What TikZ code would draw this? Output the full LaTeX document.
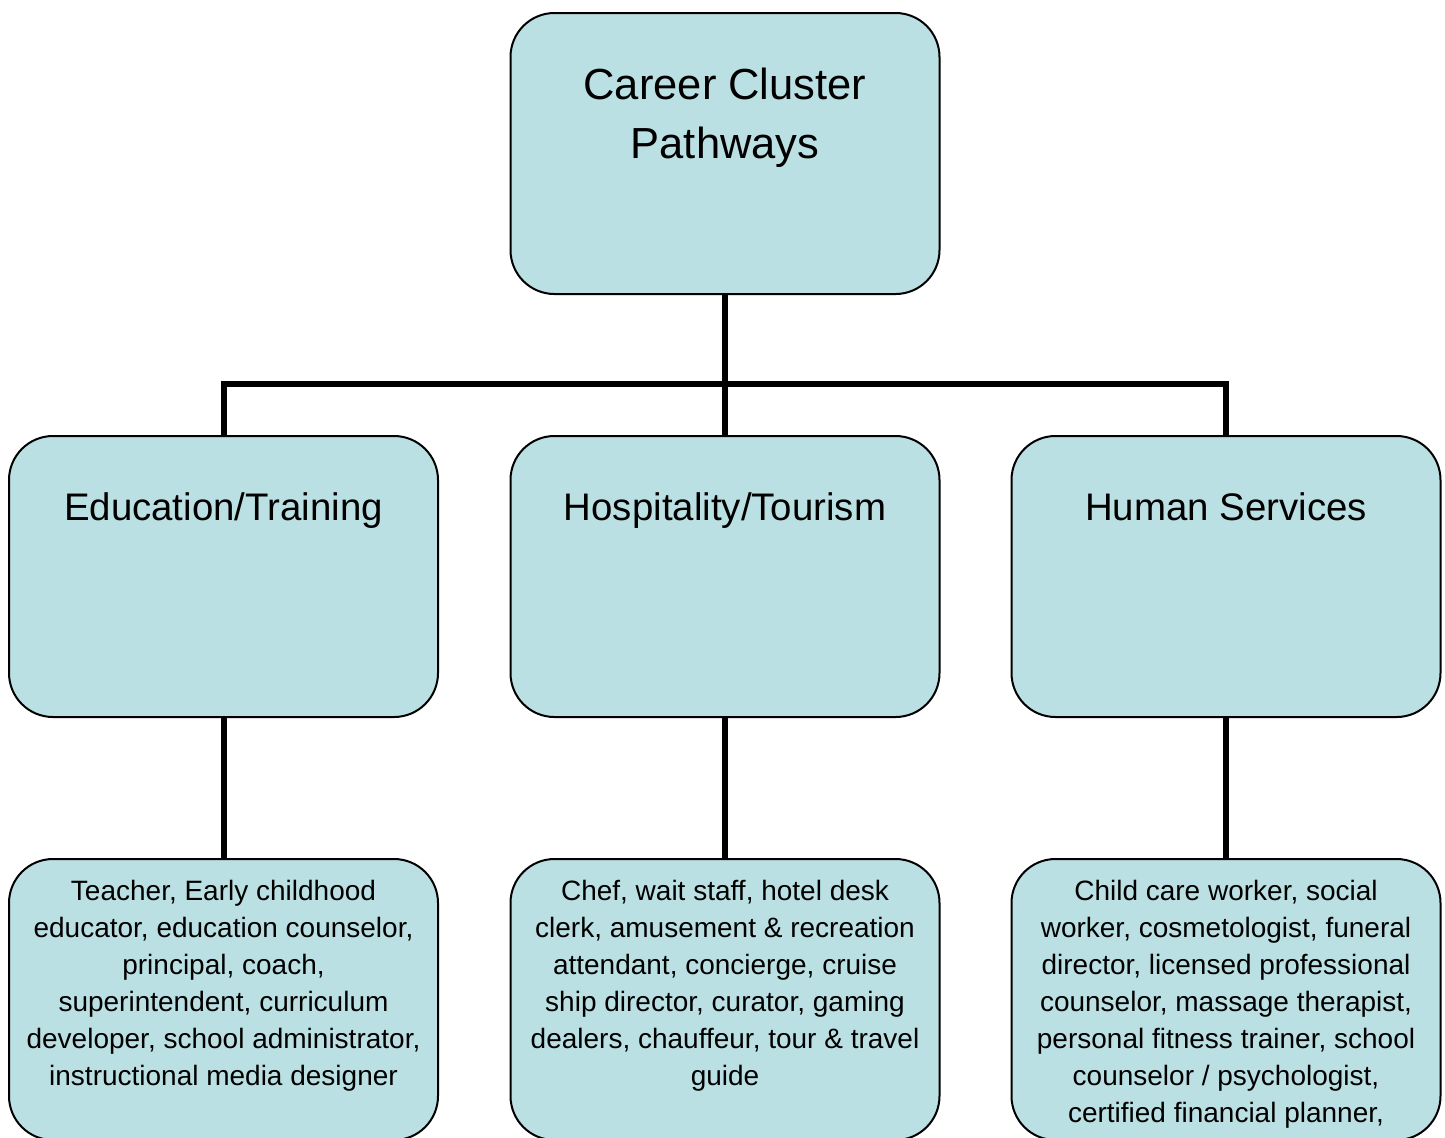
\documentclass[tikz,border=0pt]{standalone}
\usepackage{fontspec}
\setmainfont{Liberation Sans}
\usetikzlibrary{backgrounds}
\definecolor{boxfill}{RGB}{187,224,227}
\begin{document}
\begin{tikzpicture}[x=0.5pt,y=-0.5pt,
  box/.style={rectangle,draw=black,line width=1pt,fill=boxfill,rounded corners=22pt,
    minimum width=214.5pt,minimum height=140.5pt,inner sep=0pt},
  conn/.style={draw=black,line width=3pt,line join=miter},
  toptext/.style={anchor=north,inner sep=0pt,align=center,font=\fontsize{21.75}{29.5}\selectfont},
  midtext/.style={anchor=base,inner sep=0pt,align=center,font=\fontsize{19.2}{24}\selectfont},
  jobtext/.style={anchor=north,inner sep=0pt,align=center,font=\fontsize{14}{18.5}\selectfont}]
\useasboundingbox (0,0) rectangle (1445,1137);
\clip (0,0) rectangle (1445,1137);
\coordinate (bus) at (725,384);
% boxes
\node[box] (top) at (725,153.5) {};
\node[box] (edu) at (223.5,576.5) {};
\node[box] (hosp) at (725,576.5) {};
\node[box] (hs) at (1226,576.5) {};
\node[box] (edujobs) at (223.5,999.5) {};
\node[box] (hospjobs) at (725,999.5) {};
\node[box] (hsjobs) at (1226,999.5) {};
% connectors behind boxes
\begin{pgfonlayer}{background}
\draw[conn] (top.south) -- (hosp.north);
\draw[conn] (edu.north) -- (edu.north |- bus) -- (hs.north |- bus) -- (hs.north);
\draw[conn] (edu.south) -- (edujobs.north);
\draw[conn] (hosp.south) -- (hospjobs.north);
\draw[conn] (hs.south) -- (hsjobs.north);
\end{pgfonlayer}
% texts
\node[toptext] (toplabel) at (725,67.5) {Career Cluster\\Pathways};
\node[midtext] (edulabel) at (223.5,520) {Education/Training};
\node[midtext] (hosplabel) at (725,520) {Hospitality/Tourism};
\node[midtext] (hslabel) at (1226,520) {Human Services};
\node[jobtext] (edujobslabel) at (223.5,880) {Teacher, Early childhood\\educator, education counselor,\\principal, coach,\\superintendent, curriculum\\developer, school administrator,\\instructional media designer};
\node[jobtext] (hospjobslabel) at (725,880) {Chef, wait staff, hotel desk\\clerk, amusement \& recreation\\attendant, concierge, cruise\\ship director, curator, gaming\\dealers, chauffeur, tour \& travel\\guide};
\node[jobtext] (hsjobslabel) at (1226,880) {Child care worker, social\\worker, cosmetologist, funeral\\director, licensed professional\\counselor, massage therapist,\\personal fitness trainer, school\\counselor / psychologist,\\certified financial planner,};
\end{tikzpicture}
\end{document}
